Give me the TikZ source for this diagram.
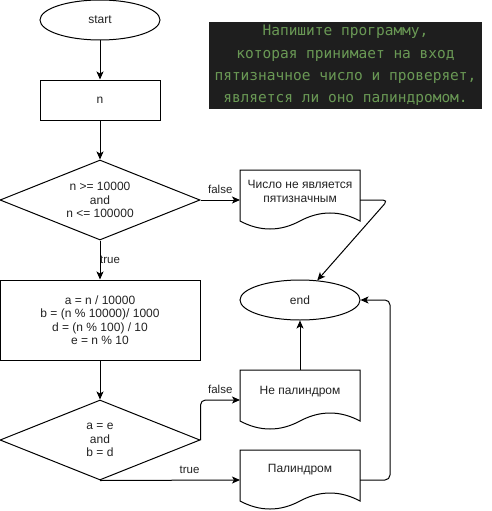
\documentclass[tikz,border=0pt]{standalone}
\usepackage{fontspec}
\setmainfont{Liberation Sans}
\newfontfamily\codefont{DejaVu Sans Mono}
\usetikzlibrary{shapes.geometric,arrows.meta,calc}
\definecolor{codebg}{HTML}{1E1E1E}
\definecolor{codegreen}{HTML}{6A9955}
\definecolor{txtc}{HTML}{222222}
\newcommand\docoutline[1]{%
  \draw[line width=1pt] (#1.north west) -- (#1.north east) -- ($(#1.north east)+(0,51)$)
    .. controls ($(#1.north east)+(-20,40.33)$) and ($(#1.north east)+(-40,40.33)$) .. ($(#1.north)+(0,51)$)
    .. controls ($(#1.north)+(-20,61.67)$) and ($(#1.north)+(-40,61.67)$) .. ($(#1.north west)+(0,51)$) -- cycle;}
\begin{document}
\begin{tikzpicture}[x=1pt,y=-1pt,
  txt/.style={font=\fontsize{12}{13.5}\selectfont, text=txtc, align=center, inner sep=0pt},
  lbl/.style={font=\fontsize{11.5}{13}\selectfont, text=txtc, inner sep=0pt},
  term/.style={txt, draw, ellipse, line width=1pt, minimum width=120pt, minimum height=40pt},
  procbox/.style={txt, draw, rectangle, line width=1pt, minimum width=#1, minimum height=#1},
  rbox/.style={txt, draw, rectangle, line width=1pt},
  decision/.style={txt, draw, diamond, aspect=2.5, line width=1pt, minimum width=200pt, minimum height=80pt},
  docbox/.style={draw=none, rectangle, minimum width=120pt, minimum height=60pt, inner sep=0pt, outer sep=0pt},
  conn/.style={draw, line width=1pt, rounded corners=5pt, -{Stealth[length=8pt,width=7pt,inset=2pt]}},
  codebox/.style={fill=codebg, text=codegreen, minimum width=273pt, minimum height=87pt, inner sep=0pt,
     align=center, font=\codefont\fontsize{14.5}{22.3}\selectfont}
]
\useasboundingbox (0,0) rectangle (491,511);

\node[codebox] (task) at (345.5,65.5) {Напишите программу,\\которая принимает на вход\\пятизначное число и проверяет,\\является ли оно палиндромом.};

\node[term] (start) at (100,20) {start};
\node[rbox, minimum width=120pt, minimum height=40pt] (n) at (100,100) {n};
\node[decision] (dia1) at (100,200) {n >= 10000\\and\\n <= 100000};
\node[rbox, minimum width=200pt, minimum height=80pt] (calc) at (100,320) {a = n / 10000\\b = (n \% 10000)/ 1000\\d = (n \% 100) / 10\\e = n \% 10};
\node[decision] (dia2) at (100,440) {a = e\\and\\b = d};

\node[docbox] (d1) at (300,200) {};
\docoutline{d1}
\node[txt] (d1t) at ($(d1.north)+(0,21.5)$) {Число не является\\пятизначным};
\node[docbox] (d2) at (300,400) {};
\docoutline{d2}
\node[txt] (d2t) at ($(d2.north)+(0,22)$) {Не палиндром};
\node[docbox] (d3) at (300,480) {};
\docoutline{d3}
\node[txt] (d3t) at ($(d3.north)+(0,20)$) {Палиндром};

\node[term] (end) at (300,300) {end};

\coordinate (b1) at (388,200);
\coordinate (b2) at (390,480);

\draw[conn] (start) -- (n);
\draw[conn] (n) -- (dia1);
\draw[conn] (dia1.east) -- node[lbl, yshift=10.5pt] {false} (d1.west);
\draw[conn] (dia1.south) -- node[lbl, xshift=10pt] {true} (calc.north);
\draw[conn] (calc) -- (dia2);
\draw[conn] (dia2.east) |- node[lbl, pos=0.75, yshift=10.5pt] {false} (d2.west);
\draw[conn] (dia2.south) -- node[lbl, pos=0.64, yshift=10.5pt] {true} (d3.west);
\draw[conn] (d2.north) -- (end.south);
\draw[conn] (d1.east) -- (b1) -- (end);
\draw[conn] (d3.east) -- (b2) |- (end.east);
\end{tikzpicture}
\end{document}
